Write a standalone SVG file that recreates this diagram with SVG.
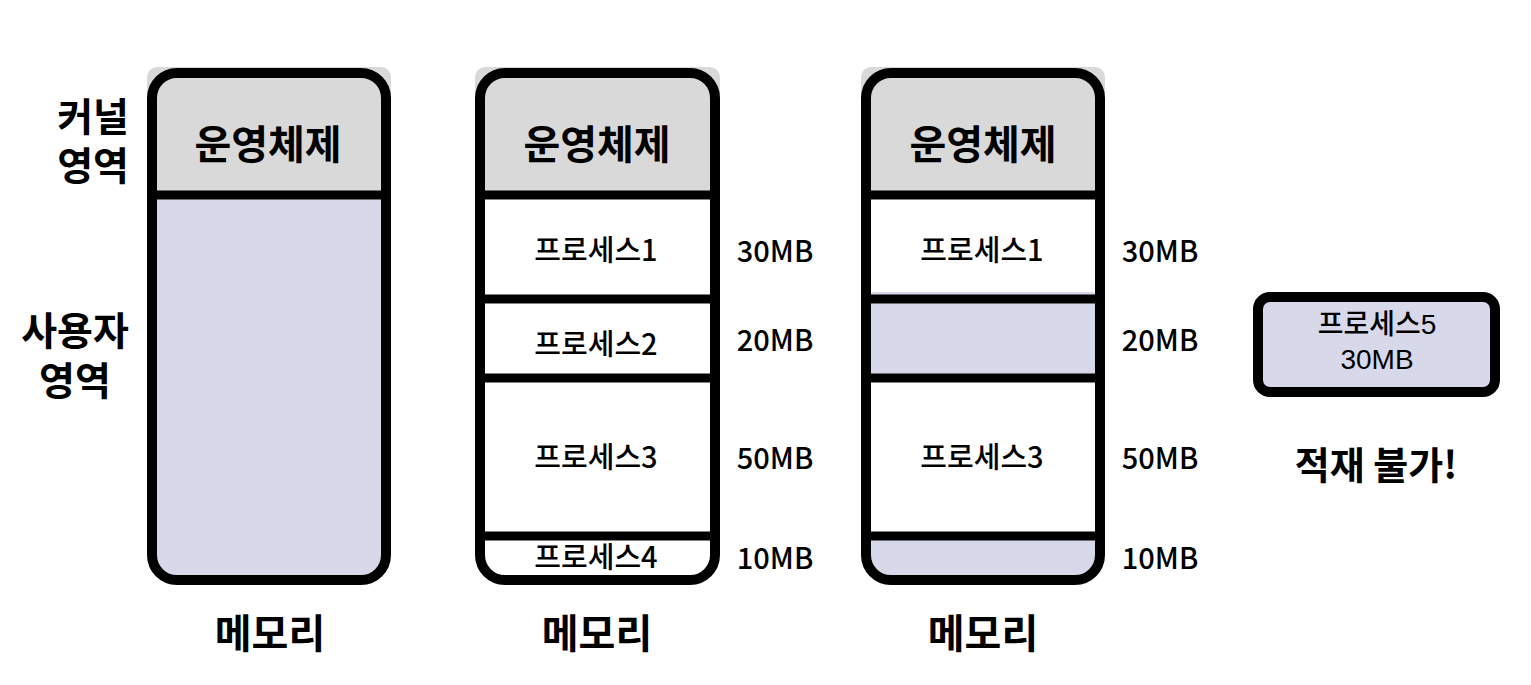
<svg xmlns="http://www.w3.org/2000/svg" width="1531" height="685" viewBox="0 0 1531 685">
<style>
.border{fill:none;stroke:#000;stroke-width:10}
.sep{stroke:#000;stroke-width:9}
.os{fill:#d9d9d9}
.free{fill:#d8d8eb}
.used{fill:#fff}
text{font-family:"Noto Sans CJK KR","Noto Sans",sans-serif;fill:#000;text-anchor:middle;dominant-baseline:central}
.tight{font-family:"Liberation Sans","Noto Sans CJK KR",sans-serif}
.big{font-size:40px;font-weight:700}
.lbl{font-size:39px;font-weight:700}
.fail{font-size:38px;font-weight:700}
.proc{font-size:29px;font-weight:500}
.mb{font-size:29px;font-weight:500}
.p5{font-size:28px;font-weight:500}
</style>
<defs>
<clipPath id="c1"><rect x="152" y="73" width="234" height="507" rx="25"/></clipPath>
<clipPath id="c2"><rect x="480" y="73" width="235" height="507" rx="25"/></clipPath>
<clipPath id="c3"><rect x="866" y="73" width="234" height="507" rx="25"/></clipPath>
</defs>
<rect width="1531" height="685" fill="#fff"/>

<g id="labels-left">
<text class="lbl tight" x="129" y="117" style="text-anchor:end">커널</text>
<text class="lbl tight" x="129" y="166" style="text-anchor:end">영역</text>
<text class="lbl tight" x="75" y="331">사용자</text>
<text class="lbl tight" x="75" y="381">영역</text>
</g>

<g id="memory1">
<rect class="os" x="147" y="67" width="244" height="128" rx="10"/>
<g clip-path="url(#c1)">
<rect class="os" x="147" y="68" width="244" height="127"/>
<rect class="free" x="147" y="195" width="244" height="390"/>
</g>
<line class="sep" x1="152" y1="195" x2="386" y2="195"/>
<rect class="border" x="152" y="73" width="234" height="507" rx="25"/>
<text class="big" x="268" y="142">운영체제</text>
<text class="big" x="270" y="631">메모리</text>
</g>

<g id="memory2">
<rect class="os" x="475" y="67" width="245" height="128" rx="10"/>
<g clip-path="url(#c2)">
<rect class="os" x="475" y="68" width="245" height="127"/>
<rect class="used" x="475" y="195" width="245" height="390"/>
</g>
<line class="sep" x1="480" y1="195" x2="715" y2="195"/>
<line class="sep" x1="480" y1="299" x2="715" y2="299"/>
<line class="sep" x1="480" y1="378" x2="715" y2="378"/>
<line class="sep" x1="480" y1="536" x2="715" y2="536"/>
<rect class="border" x="480" y="73" width="235" height="507" rx="25"/>
<text class="big" x="597" y="142">운영체제</text>
<text class="proc" x="596" y="248">프로세스1</text>
<text class="proc" x="596" y="342">프로세스2</text>
<text class="proc" x="596" y="455">프로세스3</text>
<text class="proc" x="596" y="555">프로세스4</text>
<text class="mb" x="775" y="249">30MB</text>
<text class="mb" x="775" y="338">20MB</text>
<text class="mb" x="775" y="456">50MB</text>
<text class="mb" x="775" y="556">10MB</text>
<text class="big" x="597" y="631">메모리</text>
</g>

<g id="memory3">
<rect class="os" x="861" y="67" width="244" height="128" rx="10"/>
<g clip-path="url(#c3)">
<rect class="os" x="861" y="68" width="244" height="127"/>
<rect class="used" x="861" y="195" width="244" height="104"/>
<rect class="free" x="866" y="292" width="234" height="86" rx="8"/>
<rect class="used" x="861" y="378" width="244" height="158"/>
<rect class="free" x="861" y="536" width="244" height="50"/>
</g>
<line class="sep" x1="866" y1="195" x2="1100" y2="195"/>
<line class="sep" x1="866" y1="299" x2="1100" y2="299"/>
<line class="sep" x1="866" y1="378" x2="1100" y2="378"/>
<line class="sep" x1="866" y1="536" x2="1100" y2="536"/>
<rect class="border" x="866" y="73" width="234" height="507" rx="25"/>
<text class="big" x="983" y="142">운영체제</text>
<text class="proc" x="982" y="248">프로세스1</text>
<text class="proc" x="982" y="455">프로세스3</text>
<text class="mb" x="1160" y="249">30MB</text>
<text class="mb" x="1160" y="338">20MB</text>
<text class="mb" x="1160" y="456">50MB</text>
<text class="mb" x="1160" y="556">10MB</text>
<text class="big" x="983" y="631">메모리</text>
</g>

<g id="process5">
<rect class="free" x="1258" y="297" width="237" height="95" rx="12" stroke="#000" stroke-width="10"/>
<text class="p5 tight" x="1377" y="324">프로세스5</text>
<text class="p5 tight" x="1377" y="359">30MB</text>
</g>

<g id="fail-label">
<text class="fail" x="1376" y="462">적재 불가!</text>
</g>

<g id="connectors"></g>
</svg>
